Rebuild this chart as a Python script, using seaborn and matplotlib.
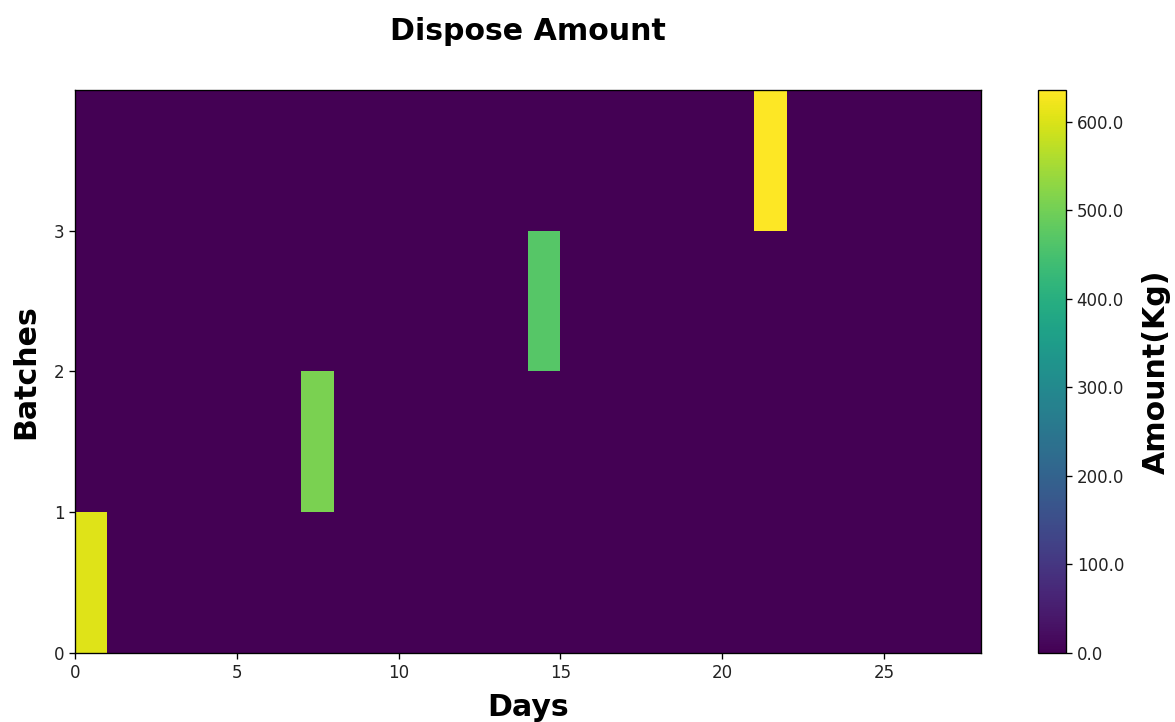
import numpy as np
import pandas as pd
import matplotlib
matplotlib.use("Agg")
import matplotlib.pyplot as plt
import seaborn as sns
from matplotlib.ticker import FormatStrFormatter

# Disposal schedule: one disposal event per batch
batches = [0, 1, 2, 3]
n_days = 28
dispose_day = [0, 7, 14, 21]
dispose_amount = [604.0, 509.0, 468.0, 636.0]

x_ticks = [0, 5, 10, 15, 20, 25]
y_ticks = [0, 1, 2, 3]
cbar_ticks = [0, 100, 200, 300, 400, 500, 600]

# Batch x day grid of disposed amounts
grid = np.zeros((len(batches), n_days))
for b, d, amt in zip(batches, dispose_day, dispose_amount):
    grid[b, d] = amt
df = pd.DataFrame(grid, index=batches, columns=range(n_days))

fig = plt.figure(figsize=(11.75, 7.22), dpi=100)
ax = fig.add_axes([0.0638, 0.0956, 0.7711, 0.7798])
cax = fig.add_axes([0.8834, 0.0956, 0.0238, 0.7798])

sns.heatmap(df, ax=ax, cmap="viridis", vmin=0, vmax=max(dispose_amount),
            cbar=True, cbar_ax=cax, xticklabels=False, yticklabels=False)

ax.invert_yaxis()
ax.set_xlim(0, n_days)
ax.set_ylim(0, len(batches))
ax.set_xticks(x_ticks)
ax.set_xticklabels([str(t) for t in x_ticks], rotation=0)
ax.set_yticks(y_ticks)
ax.set_yticklabels([str(t) for t in y_ticks], rotation=0)
ax.tick_params(axis="both", which="major", labelsize=12, length=4.2, width=0.96,
               bottom=True, left=True, color="black", labelcolor="#222222")
for side in ["top", "right", "bottom", "left"]:
    ax.spines[side].set_visible(True)
    ax.spines[side].set_linewidth(0.96)
    ax.spines[side].set_color("black")

ax.set_xlabel("Days", fontsize=21.6, fontweight="bold", labelpad=8.5)
ax.set_ylabel("Batches", fontsize=21.6, fontweight="bold", labelpad=10)
ax.set_title("Dispose Amount", fontsize=21.6, fontweight="bold", pad=36)

cbar = ax.collections[0].colorbar
cbar.set_ticks(cbar_ticks)
cbar.ax.yaxis.set_major_formatter(FormatStrFormatter("%.1f"))
cbar.ax.tick_params(labelsize=12, length=4.2, width=0.96, labelcolor="#222222")
cbar.outline.set_visible(True)
cbar.outline.set_linewidth(0.96)
cbar.outline.set_edgecolor("black")
cbar.set_label("Amount(Kg)", fontsize=21.6, fontweight="bold", labelpad=13)

fig.savefig("out.png", dpi=100)
